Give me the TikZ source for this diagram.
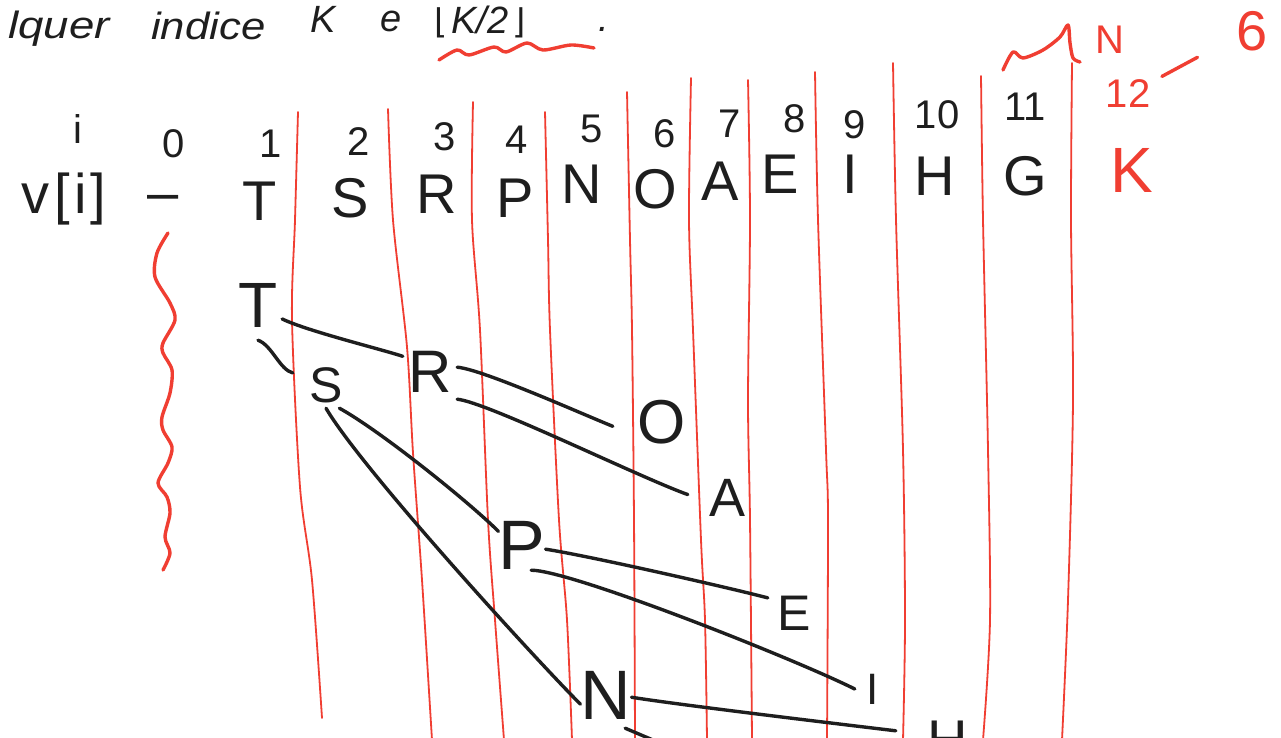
\documentclass[tikz,border=0pt]{standalone}
\usepackage{fontspec}
\setmainfont{Liberation Sans}
\newfontfamily\dejavu{DejaVu Sans}
\definecolor{inkc}{RGB}{30,30,30}
\definecolor{redc}{RGB}{240,62,50}
\begin{document}
\begin{tikzpicture}[x=1pt,y=-1pt,
  ink/.style={draw=inkc, line width=3.4pt, line cap=round, line join=round},
  redrule/.style={draw=redc, line width=1.8pt, line cap=round},
  redwave/.style={draw=redc, line width=3.4pt, line cap=round, line join=round},
  rowtxt/.style={anchor=base, inner sep=0pt, text=inkc, font=\fontsize{56}{60}\selectfont},
  idxtxt/.style={anchor=base, inner sep=0pt, text=inkc, font=\fontsize{40}{44}\selectfont},
  redtxt/.style={text=redc},
  toptxt/.style={anchor=base west, inner sep=0pt, text=inkc, font=\fontsize{38}{42}\selectfont\itshape},
  tnode/.style={inner sep=0pt, text=inkc}]
\useasboundingbox (0,0) rectangle (1281,737);
\fill[white] (0,0) rectangle (1281,737);
\clip (0,0) rectangle (1281,737);

% red column rules
\draw[redrule] plot[smooth] coordinates {(298,112) (295,220) (292,320) (300,487) (312,580) (322,718)};
\draw[redrule] plot[smooth] coordinates {(388,109) (393,220) (407,347) (413,453) (422,580) (432,740)};
\draw[redrule] plot[smooth] coordinates {(473,102) (472,220) (480,330) (488,520) (495,620) (504,740)};
\draw[redrule] plot[smooth] coordinates {(545,112) (548,240) (550,330) (559,520) (567,620) (572,740)};
\draw[redrule] plot[smooth] coordinates {(627,92) (630,240) (632,330) (634,520) (635,740)};
\draw[redrule] plot[smooth] coordinates {(691,78) (689,220) (693,330) (701,540) (705,620) (707,740)};
\draw[redrule] plot[smooth] coordinates {(748,80) (750,220) (748,400) (750,520) (752,740)};
\draw[redrule] plot[smooth] coordinates {(815,72) (818,220) (826,450) (828,520) (827,740)};
\draw[redrule] plot[smooth] coordinates {(893,63) (896,220) (903,450) (905,620) (903,740)};
\draw[redrule] plot[smooth] coordinates {(981,76) (983,220) (988,450) (990,620) (983,740)};
\draw[redrule] plot[smooth] coordinates {(1072,63) (1071,220) (1073,400) (1068,600) (1062,740)};

% red wavy marks
\draw[redwave] plot[smooth] coordinates {(168,233) (157,253) (155,277) (170,303) (175,320) (163,343) (163,353) (172,370) (170,393) (162,417) (163,430) (172,447) (168,463) (158,483) (167,497) (170,513) (165,537) (170,553) (163,570)};
\draw[redwave] plot[smooth] coordinates {(439,60) (457,50) (469,55) (494,47) (506,52) (527,43) (543,50) (571,45) (594,48)};
\draw[redwave] plot[smooth] coordinates {(1003,70) (1013,52) (1023,58) (1043,50) (1060,37) (1068,25) (1070,43) (1073,58) (1080,62)};

% top line of text
\node[toptxt] (w1) at (8,38) {\scalebox{1.2}[1]{lquer}};
\node[toptxt] (w2) at (151,39) {\scalebox{1.15}[1]{indice}};
\node[toptxt] (w3) at (310,32) {K};
\node[toptxt] (w4) at (380,31) {e};
\node[toptxt] (w5) at (434,33) {{\upshape\dejavu\fontsize{34}{38}\selectfont ⌊}\kern4pt K/2\kern4pt{\upshape\dejavu\fontsize{34}{38}\selectfont ⌋}};
\node[toptxt] (w6) at (598,31) {.};

% index row
\node[idxtxt] (ilab) at (78,143) {i};
\node[idxtxt] (i0) at (174,157) {0};
\node[idxtxt] (i1) at (271,157) {1};
\node[idxtxt] (i2) at (359,155) {2};
\node[idxtxt] (i3) at (445,150) {3};
\node[idxtxt] (i4) at (517,153) {4};
\node[idxtxt] (i5) at (592,142) {5};
\node[idxtxt] (i6) at (665,147) {6};
\node[idxtxt] (i7) at (730,137) {7};
\node[idxtxt] (i8) at (795,132) {8};
\node[idxtxt] (i9) at (855,138) {9};
\node[idxtxt] (i10) at (937,128) {10};
\node[idxtxt] (i11) at (1025,120) {11};
\node[idxtxt, redtxt] (i12) at (1128,107) {12};
\node[idxtxt, redtxt] (nlab) at (1110,53) {N};
\node[rowtxt, redtxt] (six) at (1252,50) {6};
\draw[redwave, shorten <=13pt, shorten >=44pt] (i12.25) -- (six.200);

% value row
\node[rowtxt] (vlab) at (64,213) {v\kern5pt[\kern4pt i\kern4pt]};
\node[rowtxt] (v0) at (163,211) {–};
\node[rowtxt] (v1) at (260,220) {T};
\node[rowtxt] (v2) at (350,217) {S};
\node[rowtxt] (v3) at (437,213) {R};
\node[rowtxt] (v4) at (515,217) {P};
\node[rowtxt] (v5) at (582,203) {N};
\node[rowtxt] (v6) at (655,208) {O};
\node[rowtxt] (v7) at (720,200) {A};
\node[rowtxt] (v8) at (780,193) {E};
\node[rowtxt] (v9) at (850,193) {I};
\node[rowtxt] (v10) at (935,195) {H};
\node[rowtxt] (v11) at (1025,195) {G};
\node[rowtxt, redtxt, font=\fontsize{64}{68}\selectfont] (klab) at (1132,192) {K};

% heap as a tree
\node[tnode, font=\fontsize{64}{68}\selectfont, minimum width=48pt, minimum height=70pt] (tT) at (258,305) {T};
\node[tnode, font=\fontsize{50}{54}\selectfont, minimum width=66pt, minimum height=46pt] (tS) at (326,385) {S};
\node[tnode, font=\fontsize{60}{64}\selectfont, minimum width=54pt, minimum height=54pt] (tR) at (430,372) {R};
\node[tnode, font=\fontsize{62}{66}\selectfont, minimum width=98pt, minimum height=50pt] (tO) at (662,422) {O};
\node[tnode, font=\fontsize{54}{58}\selectfont, minimum width=78pt, minimum height=44pt] (tA) at (727,498) {A};
\node[tnode, font=\fontsize{70}{74}\selectfont, minimum width=44pt, minimum height=50pt] (tP) at (522,545) {P};
\node[tnode, font=\fontsize{50}{54}\selectfont, minimum width=52pt, minimum height=40pt] (tE) at (794,613) {E};
\node[tnode, font=\fontsize{44}{48}\selectfont, minimum width=36pt, minimum height=34pt] (tI) at (873,689) {I};
\node[tnode, font=\fontsize{70}{74}\selectfont, minimum width=48pt, minimum height=66pt] (tN) at (606,695) {N};
\node[tnode, font=\fontsize{56}{60}\selectfont, minimum width=104pt, minimum height=44pt] (tH) at (948,740) {H};
\coordinate (gend) at (700,760);

\draw[ink] (tT.-30) .. controls +(25,12) and +(-25,-8) .. (tR.150);
\draw[ink] (tT.south) .. controls +(14,5) and +(-13,-3) .. (tS.160);
\draw[ink] (tR.10) .. controls +(25,2) and +(-30,-12) .. (tO.185);
\draw[ink] (tR.south east) .. controls +(30,3) and +(-50,-18) .. (tA.175);
\draw[ink] (tS.-60) .. controls +(40,22) and +(-30,-30) .. (tP.150);
\draw[ink] (tS.south) .. controls +(35,60) and +(-45,-45) .. (tN.200);
\draw[ink] (tP.-10) .. controls +(50,8) and +(-30,-8) .. (tE.150);
\draw[ink] (tP.-70) .. controls +(40,0) and +(-60,-30) .. (tI.west);
\draw[ink] (tN.-5) .. controls +(50,8) and +(-50,-6) .. (tH.170);
\draw[ink] (tN.-60) -- (gend);
\end{tikzpicture}
\end{document}
